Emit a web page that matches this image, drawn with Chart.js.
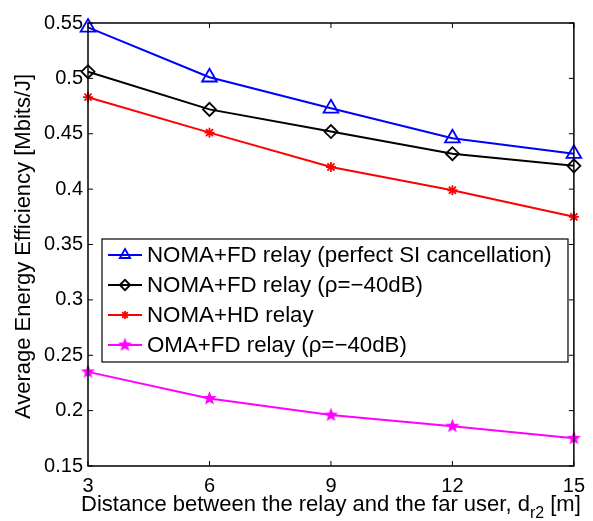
<!DOCTYPE html>
<html>
<head>
<meta charset="utf-8">
<script src="https://cdn.jsdelivr.net/npm/chart.js@4"></script>
<style>
  html, body { margin: 0; padding: 0; background: #fff; }
</style>
</head>
<body>
<canvas id="chart" width="593" height="521"></canvas>
<script>
// values
const distances = [3, 6, 9, 12, 15];
const nomaFdPerfect = [0.546, 0.501, 0.473, 0.446, 0.432];
const nomaFdRho = [0.506, 0.472, 0.452, 0.432, 0.421];
const nomaHd = [0.483, 0.451, 0.420, 0.399, 0.375];
const omaFdRho = [0.235, 0.211, 0.196, 0.186, 0.175];
const seriesLabels = [
    'NOMA+FD relay (perfect SI cancellation)',
    'NOMA+FD relay (\u03c1=\u221240dB)',
    'NOMA+HD relay',
    'OMA+FD relay (\u03c1=\u221240dB)'
];
const xTicks = [3, 6, 9, 12, 15];
const yTicks = [0.15, 0.2, 0.25, 0.3, 0.35, 0.4, 0.45, 0.5, 0.55];

const FONT = "'Liberation Sans', Arial, Helvetica, sans-serif";

/** Filled five-point star used as the magenta marker. */
function makeStar(color, r) {
    const c = document.createElement('canvas');
    const s = Math.ceil(r * 2 + 4);
    c.width = s;
    c.height = s;
    const g = c.getContext('2d');
    g.beginPath();
    for (let i = 0; i < 10; i++) {
        const rad = i % 2 ? r * 0.42 : r;
        const a = -Math.PI / 2 + i * Math.PI / 5;
        g.lineTo(s / 2 + rad * Math.cos(a), s / 2 + rad * Math.sin(a));
    }
    g.closePath();
    g.fillStyle = color;
    g.fill();
    return c;
}

const starImg = makeStar('#ff00ff', 7.5);

function series(label, values, color, style, radius) {
    return {
        label: label,
        data: values.map((v, i) => ({x: distances[i], y: v})),
        borderColor: color,
        borderWidth: 2,
        pointStyle: style,
        pointRadius: radius,
        pointBorderColor: color,
        pointBackgroundColor: 'rgba(0,0,0,0)',
        pointBorderWidth: 1.8,
        tension: 0,
        clip: false
    };
}

const datasets = [
    series(seriesLabels[0], nomaFdPerfect, '#0000ff', 'triangle', 8.5),
    series(seriesLabels[1], nomaFdRho, '#000000', 'rectRot', 6.5),
    series(seriesLabels[2], nomaHd, '#ff0000', 'star', 5),
    series(seriesLabels[3], omaFdRho, '#ff00ff', starImg, 7.5)
];

/** Frame, inward ticks, axis titles and the in-plot legend. */
const decorations = {
    id: 'decorations',
    afterDraw(chart) {
        const ctx = chart.ctx;
        const a = chart.chartArea;
        const xs = chart.scales.x;
        const ys = chart.scales.y;
        ctx.save();
        ctx.strokeStyle = '#000';
        ctx.lineWidth = 1.5;
        ctx.strokeRect(a.left, a.top, a.right - a.left, a.bottom - a.top);
        ctx.lineWidth = 1;
        ctx.beginPath();
        xTicks.forEach(t => {
            const px = xs.getPixelForValue(t);
            ctx.moveTo(px, a.bottom); ctx.lineTo(px, a.bottom - 5);
            ctx.moveTo(px, a.top); ctx.lineTo(px, a.top + 5);
        });
        yTicks.forEach(t => {
            const py = ys.getPixelForValue(t);
            ctx.moveTo(a.left, py); ctx.lineTo(a.left + 5, py);
            ctx.moveTo(a.right, py); ctx.lineTo(a.right - 5, py);
        });
        ctx.stroke();

        // x title with subscript
        ctx.fillStyle = '#000';
        ctx.textBaseline = 'alphabetic';
        ctx.textAlign = 'left';
        const main = 'Distance between the relay and the far user, d';
        const sub = 'r2';
        const tail = ' [m]';
        ctx.font = '22px ' + FONT;
        const wMain = ctx.measureText(main).width;
        const wTail = ctx.measureText(tail).width;
        ctx.font = '16px ' + FONT;
        const wSub = ctx.measureText(sub).width;
        const total = wMain + wSub + wTail;
        let x0 = (a.left + a.right) / 2 - total / 2;
        const base = 511;
        ctx.font = '22px ' + FONT;
        ctx.fillText(main, x0, base);
        ctx.font = '16px ' + FONT;
        ctx.fillText(sub, x0 + wMain, base + 7);
        ctx.font = '22px ' + FONT;
        ctx.fillText(tail, x0 + wMain + wSub, base);

        // y title
        ctx.save();
        ctx.translate(24, (a.top + a.bottom) / 2 + 2);
        ctx.rotate(-Math.PI / 2);
        ctx.textAlign = 'center';
        ctx.textBaseline = 'middle';
        ctx.font = '22px ' + FONT;
        ctx.fillText('Average Energy Efficiency [Mbits/J]', 0, 0);
        ctx.restore();

        // legend
        const lx = 102, ly = 239, lw = 466, lh = 123;
        ctx.fillStyle = '#fff';
        ctx.fillRect(lx, ly, lw, lh);
        ctx.strokeStyle = '#000';
        ctx.lineWidth = 1.2;
        ctx.strokeRect(lx, ly, lw, lh);
        chart.data.datasets.forEach((ds, i) => {
            const cy = ly + 16 + i * 30;
            ctx.strokeStyle = ds.borderColor;
            ctx.lineWidth = 2;
            ctx.beginPath();
            ctx.moveTo(108, cy);
            ctx.lineTo(142, cy);
            ctx.stroke();
            ctx.fillStyle = 'rgba(0,0,0,0)';
            ctx.lineWidth = ds.pointBorderWidth;
            Chart.helpers.drawPoint(ctx, {
                pointStyle: ds.pointStyle,
                radius: ds.pointStyle === 'triangle' ? 6 : ds.pointRadius * 0.8,
                rotation: 0,
                borderWidth: ds.pointBorderWidth
            }, 125, cy);
            ctx.fillStyle = '#000';
            ctx.font = '22.3px ' + FONT;
            ctx.textAlign = 'left';
            ctx.textBaseline = 'middle';
            ctx.fillText(ds.label, 147, cy + 1);
        });
        ctx.restore();
    }
};

new Chart(document.getElementById('chart'), {
    type: 'line',
    data: {datasets: datasets},
    options: {
        responsive: false,
        animation: false,
        devicePixelRatio: 1,
        layout: {padding: {top: 23, right: 14, left: 0, bottom: 0}},
        plugins: {
            legend: {display: false},
            tooltip: {enabled: false}
        },
        scales: {
            x: {
                type: 'linear',
                min: 3,
                max: 15,
                afterBuildTicks: s => { s.ticks = xTicks.map(v => ({value: v})); },
                afterFit: s => { s.height = 55; },
                grid: {display: false, drawTicks: false},
                border: {display: false},
                ticks: {
                    color: '#000',
                    padding: 8,
                    maxRotation: 0,
                    font: {family: FONT, size: 20}
                }
            },
            y: {
                type: 'linear',
                min: 0.15,
                max: 0.55,
                afterBuildTicks: s => { s.ticks = yTicks.map(v => ({value: v})); },
                afterFit: s => { s.width = 88; },
                grid: {display: false, drawTicks: false},
                border: {display: false},
                ticks: {
                    color: '#000',
                    padding: 5,
                    font: {family: FONT, size: 20},
                    callback: v => String(Number(v.toFixed(2)))
                }
            }
        }
    },
    plugins: [decorations]
});
</script>
</body>
</html>
